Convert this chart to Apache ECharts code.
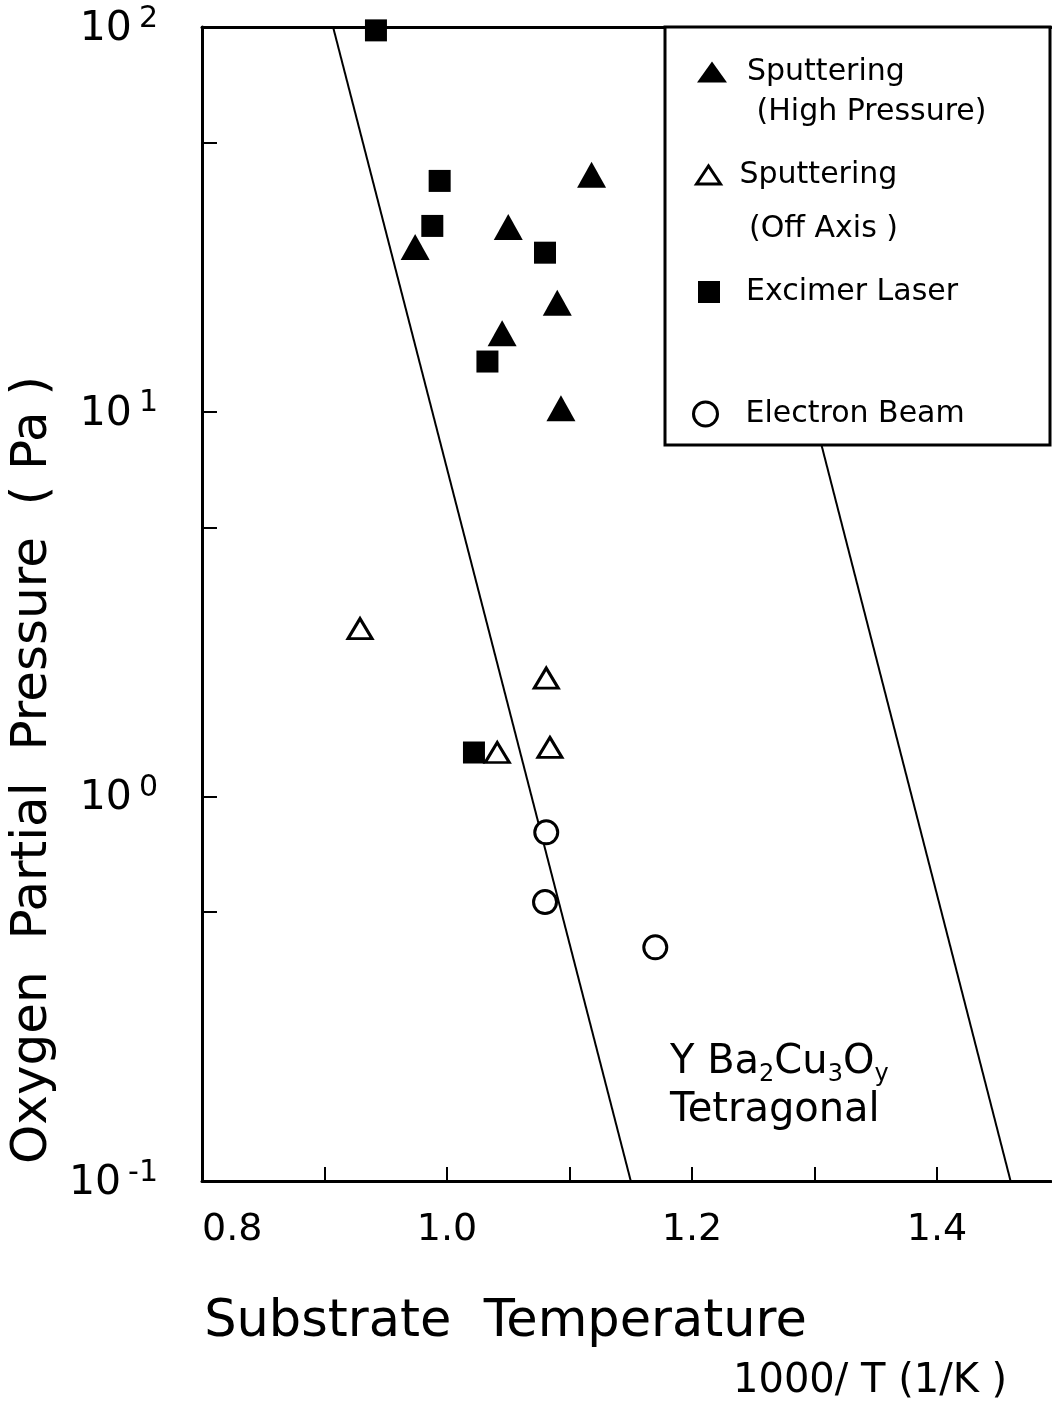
<!DOCTYPE html>
<html><head><meta charset="utf-8">
<script src="https://cdn.jsdelivr.net/npm/echarts@6/dist/echarts.min.js"></script>
<style>html,body{margin:0;padding:0;background:#fff;overflow:hidden}#c{width:1052px;height:1409px}</style>
</head><body><div id="c"></div>
<script>
const FONT = 'DejaVu Sans';

// ---- data ----
const hpSputterX = [1.118, 1.050, 0.974, 1.090, 1.045, 1.093];
const hpSputterY = [41.3, 30.2, 26.8, 19.2, 16.0, 10.2];
const offAxisX = [0.929, 1.081, 1.041, 1.084];
const offAxisY = [2.73, 2.03, 1.30, 1.34];
const excimerX = [0.942, 0.994, 0.988, 1.080, 1.033, 1.022];
const excimerY = [98, 39.8, 30.4, 25.9, 13.5, 1.30];
const eBeamX = [1.081, 1.080, 1.170];
const eBeamY = [0.806, 0.531, 0.405];
const boundaryLeftX = [0.907, 1.150];
const boundaryRightX = [1.218, 1.460];
const boundaryY = [100, 0.1];
const xTickValues = [0.9, 1.0, 1.1, 1.2, 1.3, 1.4];
const xLabelValues = [0.8, 1.0, 1.2, 1.4];
const yTickValues = [0.1, 0.5, 1, 5, 10, 50, 100];
const yLabelValues = [0.1, 1, 10, 100];

const pairs = (xs, ys) => xs.map((x, i) => [x, ys[i]]);

const chart = echarts.init(document.getElementById('c'), null, {renderer: 'canvas'});

const legendText = {fontSize: 30, lineHeight: 40, color: '#000', fontFamily: FONT};
const legendBase = {orient: 'vertical', padding: 0, selectedMode: false, z: 6, textStyle: legendText};

const option = {
  animation: false,
  backgroundColor: '#fff',
  textStyle: {fontFamily: FONT, color: '#000'},
  grid: {left: 200, top: 27, right: 1, bottom: 228, containLabel: false},
  xAxis: [{
    type: 'value', min: 0.8, max: 1.493,
    axisLine: {show: true, onZero: false, lineStyle: {color: '#000', width: 3}},
    axisTick: {show: true, inside: true, length: 14, customValues: xTickValues, lineStyle: {color: '#000', width: 2}},
    axisLabel: {customValues: xLabelValues, formatter: v => v.toFixed(1), fontSize: 38, color: '#000',
      margin: 30, fontFamily: FONT, alignMinLabel: 'left'},
    splitLine: {show: false},
    name: 'Substrate  Temperature', nameLocation: 'middle', nameGap: 116,
    nameTextStyle: {fontSize: 51, color: '#000', fontFamily: FONT, padding: [0, 242, 0, 0]}
  }, {
    type: 'value', position: 'top', min: 0.8, max: 1.493,
    axisLine: {show: true, onZero: false, lineStyle: {color: '#000', width: 3}},
    axisTick: {show: false}, axisLabel: {show: false}, splitLine: {show: false}
  }],
  yAxis: {
    type: 'log', logBase: 10, min: 0.1, max: 100,
    axisLine: {show: true, onZero: false, lineStyle: {color: '#000', width: 3}},
    axisTick: {show: true, inside: true, length: 15, customValues: yTickValues, lineStyle: {color: '#000', width: 2}},
    minorTick: {show: false},
    splitLine: {show: false},
    axisLabel: {
      customValues: yLabelValues, margin: 44,
      formatter: v => { const e = Math.round(Math.log10(v)); return '{n|10}{s|' + e + '}'; },
      rich: {
        n: {fontSize: 41, lineHeight: 46, verticalAlign: 'bottom', color: '#000', fontFamily: FONT},
        s: {fontSize: 30, lineHeight: 30, verticalAlign: 'top', color: '#000', fontFamily: FONT, padding: [0, 0, 0, 7]}
      }
    },
    name: 'Oxygen  Partial  Pressure  ( Pa )', nameLocation: 'middle', nameGap: 136, nameRotate: 90,
    nameTextStyle: {fontSize: 50, color: '#000', fontFamily: FONT, padding: [0, 332, 0, 0]}
  },
  legend: [
    Object.assign({}, legendBase, {
      data: [{name: 'Sputtering (High Pressure)', icon: 'path://M0,21L15,0L30,21Z'}],
      left: 697, top: 12, itemWidth: 60, itemHeight: 21,
      formatter: '\nSputtering\n (High Pressure)'
    }),
    Object.assign({}, legendBase, {
      data: [{name: 'Sputtering (Off Axis)', icon: 'path://M0,18L12,0L24,18Z'}],
      left: 695, top: 94, itemWidth: 52, itemHeight: 18,
      itemStyle: {borderWidth: 3, borderColor: '#000', color: '#fff'},
      formatter: '\nSputtering\n (Off Axis )',
      textStyle: Object.assign({}, legendText, {lineHeight: 54})
    }),
    Object.assign({}, legendBase, {
      data: [{name: 'Excimer Laser', icon: 'path://M0,0L22,0L22,22L0,22Z'}],
      left: 698, top: 272, itemWidth: 64, itemHeight: 22
    }),
    Object.assign({}, legendBase, {
      data: [{name: 'Electron Beam', icon: 'path://M12,0A12,12,0,1,1,11.99,0Z'}],
      left: 692, top: 394, itemWidth: 70, itemHeight: 24,
      itemStyle: {borderWidth: 3, borderColor: '#000', color: '#fff'}
    })
  ],
  graphic: [
    {type: 'rect', z: 3, shape: {x: 665, y: 27, width: 385, height: 418},
      style: {fill: '#fff', stroke: '#000', lineWidth: 3}},
    {type: 'text', z: 5, left: 670, top: 1031, style: {
      text: '{n|Y Ba}{s|2}{n|Cu}{s|3}{n|O}{s|y}',
      fill: '#000',
      rich: {
        n: {fontSize: 40, lineHeight: 44, verticalAlign: 'top', fontFamily: FONT, fill: '#000'},
        s: {fontSize: 24, lineHeight: 24, verticalAlign: 'bottom', padding: [32, 0, 0, 0], fontFamily: FONT, fill: '#000'}
      }
    }},
    {type: 'text', z: 5, left: 670, top: 1091, style: {
      text: 'Tetragonal', fontSize: 40, fontFamily: FONT, fill: '#000'
    }},
    {type: 'text', z: 5, left: 733, top: 1362, style: {
      text: '1000/ T (1/K )', fontSize: 40, fontFamily: FONT, fill: '#000'
    }}
  ],
  series: [
    {name: 'Sputtering (High Pressure)', type: 'scatter', data: pairs(hpSputterX, hpSputterY),
      symbol: 'triangle', symbolSize: [29, 26], itemStyle: {color: '#000', opacity: 1}},
    {name: 'Sputtering (Off Axis)', type: 'scatter', data: pairs(offAxisX, offAxisY),
      symbol: 'triangle', symbolSize: [24, 20], itemStyle: {color: '#fff', borderColor: '#000', borderWidth: 3, opacity: 1}},
    {name: 'Excimer Laser', type: 'scatter', data: pairs(excimerX, excimerY),
      symbol: 'rect', symbolSize: 22, itemStyle: {color: '#000', opacity: 1}},
    {name: 'Electron Beam', type: 'scatter', data: pairs(eBeamX, eBeamY),
      symbol: 'circle', symbolSize: 23, itemStyle: {color: '#fff', borderColor: '#000', borderWidth: 3, opacity: 1}},
    {name: 'Tetragonal boundary (left)', type: 'line', data: pairs(boundaryLeftX, boundaryY),
      symbol: 'none', silent: true, lineStyle: {color: '#000', width: 2}, z: 2},
    {name: 'Tetragonal boundary (right)', type: 'line', data: pairs(boundaryRightX, boundaryY),
      symbol: 'none', silent: true, lineStyle: {color: '#000', width: 2}, z: 2}
  ]
};
chart.setOption(option);
</script>
</body></html>
